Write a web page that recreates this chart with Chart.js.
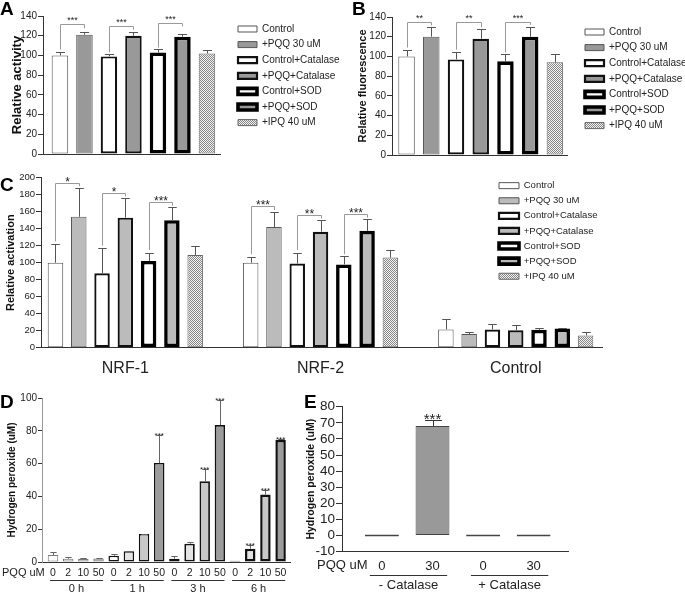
<!DOCTYPE html>
<html>
<head>
<meta charset="utf-8">
<script src="https://cdn.jsdelivr.net/npm/chart.js@4.4.1/dist/chart.umd.min.js"></script>
<style>
  body { margin: 0; background: #fff; }
  #wrap { position: relative; width: 685px; height: 593px; overflow: hidden; }
  canvas { position: absolute; left: 0; top: 0; }
  #cA { clip-path: inset(0 345px 428px 0); }
  #cB { clip-path: inset(0 0 428px 340px); }
  #cC { clip-path: inset(165px 0 203px 0); }
  #cD { clip-path: inset(388px 385px 0 0); }
  #cE { left: 300px; top: 388px; }
  .tag { position: absolute; font: bold 19px "Liberation Sans", Arial, sans-serif; color: #000; }
  .blank { position: absolute; background: #fff; }
</style>
</head>
<body>
<div id="wrap">
  <canvas id="cA" width="685" height="593"></canvas>
  <canvas id="cB" width="685" height="593"></canvas>
  <canvas id="cC" width="685" height="593"></canvas>
  <canvas id="cD" width="685" height="593"></canvas>
  <canvas id="cE" width="385" height="205"></canvas>
  <div class="blank" style="left:344px;top:399px;width:256px;height:11px"></div>
  <div class="blank" style="left:563px;top:399px;width:37px;height:150px"></div>
  <div class="tag" style="left:0;top:-2px">A</div>
  <div class="tag" style="left:352px;top:-2px">B</div>
  <div class="tag" style="left:0;top:174px">C</div>
  <div class="tag" style="left:0;top:391px">D</div>
  <div class="tag" style="left:304px;top:391px">E</div>
</div>
<script>
const seriesNames = ['Control', '+PQQ 30 uM', 'Control+Catalase', '+PQQ+Catalase', 'Control+SOD', '+PQQ+SOD', '+IPQ 40 uM'];

// A: relative activity (one bar per treatment)
const activityA = [100, 121, 99, 120, 103, 119, 102];
const activityErrA = [3.5, 3, 2.5, 4, 3.5, 3, 4];

// B: relative fluorescence
const fluorB = [100, 120, 97, 118, 95, 120, 94];
const fluorErrB = [7, 9.5, 8, 9.5, 7.5, 10, 8];

// C: relative activation, rows = treatment, columns = group
const groupsC = ['NRF-1', 'NRF-2', 'Control'];
const activC = [
  [100, 100, 21.5],
  [154, 142, 16],
  [87.5, 99, 21.5],
  [153, 136.5, 20.5],
  [102, 98, 21],
  [150, 137.5, 22.5],
  [109, 106, 14.5]
];
const activErrC = [
  [22.5, 6.5, 12.5],
  [33.5, 18, 3],
  [29.5, 13, 6.5],
  [23.5, 13.5, 6.5],
  [10, 9.5, 1.7],
  [15, 14, 1.2],
  [11, 9.5, 3.5]
];

// D: hydrogen peroxide over time
const pqqD = ['0', '2', '10', '50', '0', '2', '10', '50', '0', '2', '10', '50', '0', '2', '10', '50'];
const timesD = ['0 h', '1 h', '3 h', '6 h'];
const h2o2D = [4.2, 2.0, 1.8, 2.2, 3.8, 6.5, 17.1, 60.3, 2.0, 11.1, 49.2, 83.5, 0.8, 8.1, 41.1, 74.4];
const h2o2ErrD = [1.6, 1.0, 0.6, 0.2, 1.2, 0.5, 0.2, 17.3, 1.8, 1.0, 7.7, 15.5, 0, 2.4, 2.7, 0.6];
const starsD = [7, 10, 11, 13, 14, 15];

// E: hydrogen peroxide with / without catalase
const pqqE = ['0', '30', '0', '30'];
const catalaseE = ['- Catalase', '+ Catalase'];
const h2o2E = [0, 68, 0, 0];
const h2o2ErrE = [0, 3.5, 0, 0];

const FONT = '"Liberation Sans", Arial, Helvetica, sans-serif';
Chart.defaults.font.family = FONT;
Chart.defaults.color = '#222';

function hatch() {
  const c = document.createElement('canvas');
  c.width = c.height = 2;
  const g = c.getContext('2d');
  g.fillStyle = '#f4f4f4';
  g.fillRect(0, 0, 2, 2);
  g.fillStyle = '#858585';
  g.fillRect(0, 0, 1, 1);
  g.fillRect(1, 1, 1, 1);
  return g.createPattern(c, 'repeat');
}

function seriesStyle(gray) {
  return [
    { backgroundColor: '#fff', borderColor: '#555', borderWidth: 1 },
    { backgroundColor: gray, borderColor: '#555', borderWidth: 1 },
    { backgroundColor: '#fff', borderColor: '#111', borderWidth: 2.2 },
    { backgroundColor: gray, borderColor: '#111', borderWidth: 2.2 },
    { backgroundColor: '#fff', borderColor: '#000', borderWidth: 3.6 },
    { backgroundColor: gray, borderColor: '#000', borderWidth: 3.6 },
    { backgroundColor: hatch(), borderColor: '#666', borderWidth: 1 }
  ];
}

// place the plot area at page rect L..R, T..B inside a canvas at (ox, oy) of size cw x ch
function frame(L, T, R, B, yW, xH, ox = 0, oy = 0, cw = 685, ch = 593) {
  return {
    padding: { left: L - ox - yW, top: T - oy, right: ox + cw - R, bottom: oy + ch - B - xH },
    yFit: s => { s.width = yW; },
    xFit: s => { s.height = xH; }
  };
}

function yAxis(o) {
  return {
    min: o.min || 0, max: o.max,
    ticks: { stepSize: o.step, autoSkip: false, padding: 1, font: { size: o.size }, color: '#222' },
    grid: { drawOnChartArea: false, drawTicks: true, tickLength: o.tick || 5, color: '#333' },
    border: { display: true, color: o.axisColor || '#333', width: 1 },
    title: { display: true, text: o.title, font: { size: o.titleSize, weight: 'bold' }, color: '#111', padding: 0 },
    afterFit: o.fit
  };
}

function xAxis(o) {
  return {
    type: 'linear', min: o.min, max: o.max, offset: false,
    afterBuildTicks: s => { s.ticks = o.labels.map((_, i) => ({ value: i })); },
    ticks: {
      display: o.show, autoSkip: false, maxRotation: 0, padding: o.pad || 4,
      font: { size: o.size || 10 }, color: '#222',
      callback: v => o.labels[v]
    },
    grid: { display: false, drawTicks: false, drawOnChartArea: false },
    border: { display: true, color: '#333', width: 1 },
    afterFit: o.fit
  };
}

function extras(cfg) {
  const ox = cfg.ox || 0, oy = cfg.oy || 0;
  return {
    id: 'extras',
    afterLayout(chart) {
      if (cfg.legend) {
        const lg = chart.legend;
        lg.left = cfg.legend.x;
        lg.top = cfg.legend.y;
        lg.right = lg.left + lg.width;
        lg.bottom = lg.top + lg.height;
      }
    },
    afterDatasetsDraw(chart) {
      const ctx = chart.ctx, ys = chart.scales.y, xs = chart.scales.x;
      ctx.save();
      ctx.beginPath();
      (cfg.errors || []).forEach((errs, di) => {
        const meta = chart.getDatasetMeta(di);
        meta.data.forEach((bar, j) => {
          const e = errs[j];
          if (!e) return;
          const v = meta.controller.getParsed(j).y;
          const yt = Math.round(ys.getPixelForValue(v + e)) + 0.5;
          const x = Math.round(bar.x) + 0.5;
          const half = bar.width * (cfg.cap || 0.5) / 2;
          ctx.strokeStyle = cfg.errColor || '#555';
          ctx.lineWidth = 1;
          ctx.beginPath();
          ctx.moveTo(x, bar.y);
          ctx.lineTo(x, yt);
          ctx.moveTo(x - half, yt);
          ctx.lineTo(x + half, yt);
          ctx.stroke();
        });
      });
      const barAt = (p) => chart.getDatasetMeta(p[0]).data[p[1]];
      (cfg.brackets || []).forEach(b => {
        const xa = Math.round(barAt(b.a).x) + 0.5, xb = Math.round(barAt(b.b).x) + 0.5;
        const yt = Math.round(ys.getPixelForValue(b.top)) + 0.5;
        ctx.strokeStyle = '#999';
        ctx.lineWidth = 1;
        ctx.beginPath();
        ctx.moveTo(xa, ys.getPixelForValue(b.la));
        ctx.lineTo(xa, yt);
        ctx.lineTo(xb, yt);
        ctx.lineTo(xb, ys.getPixelForValue(b.lb));
        ctx.stroke();
        ctx.fillStyle = '#222';
        ctx.font = cfg.starFont;
        ctx.textAlign = 'center';
        ctx.textBaseline = 'alphabetic';
        ctx.fillText(b.text, (xa + xb) / 2, yt - 2 + (cfg.starShift || 0));
      });
      (cfg.stars || []).forEach(s => {
        const meta = chart.getDatasetMeta(s.d);
        const bar = meta.data[s.i];
        const v = meta.controller.getParsed(s.i).y + (cfg.errors[s.d][s.i] || 0);
        ctx.fillStyle = '#222';
        ctx.font = cfg.starFont;
        ctx.textAlign = 'center';
        ctx.textBaseline = 'alphabetic';
        ctx.fillText(s.text, bar.x, ys.getPixelForValue(v) - 1 + (cfg.starShift || 0));
      });
      (cfg.groups || []).forEach(g => {
        const x1 = xs.getPixelForValue(g.from), x2 = xs.getPixelForValue(g.to);
        ctx.strokeStyle = '#333';
        ctx.lineWidth = 1;
        ctx.beginPath();
        ctx.moveTo(x1, g.y - oy + 0.5);
        ctx.lineTo(x2, g.y - oy + 0.5);
        ctx.stroke();
        ctx.fillStyle = '#222';
        ctx.font = g.font;
        ctx.textAlign = 'center';
        ctx.textBaseline = 'middle';
        ctx.fillText(g.text, (x1 + x2) / 2, g.ty - oy);
      });
      (cfg.texts || []).forEach(t => {
        ctx.fillStyle = '#222';
        ctx.font = t.font;
        ctx.textAlign = t.align || 'left';
        ctx.textBaseline = 'middle';
        ctx.fillText(t.text, t.x - ox, t.y - oy);
      });
      ctx.beginPath();
      ctx.restore();
    }
  };
}

function legendOpts(size, boxW) {
  return {
    display: true, position: 'chartArea', align: 'start',
    labels: { boxWidth: boxW, boxHeight: 6, padding: 5.6, font: { size: size }, color: '#222' }
  };
}

function groupedDatasets(values, gray, catPct, barPct) {
  const st = seriesStyle(gray);
  return seriesNames.map((name, s) => Object.assign({
    label: name,
    data: values[s].map((v, i) => ({ x: i, y: v })),
    borderSkipped: false,
    categoryPercentage: catPct,
    barPercentage: barPct
  }, st[s]));
}

// ---------- A ----------
const fA = frame(43, 16, 220, 154, 33, 2);
new Chart(document.getElementById('cA'), {
  type: 'bar',
  data: { datasets: groupedDatasets(activityA.map(v => [v]), '#999', 0.969, 0.673) },
  options: {
    responsive: false, animation: false, devicePixelRatio: 1,
    layout: { padding: fA.padding },
    plugins: { legend: legendOpts(10, 19), tooltip: { enabled: false } },
    scales: {
      x: xAxis({ min: -0.511, max: 0.489, labels: [''], show: false, fit: fA.xFit }),
      y: yAxis({ max: 140, step: 20, size: 10, title: 'Relative activity', titleSize: 13, fit: fA.yFit })
    }
  },
  plugins: [extras({
    legend: { x: 232.4, y: 18.4 },
    errors: activityErrA.map(e => [e]),
    cap: 0.55,
    starFont: '9px ' + FONT,
    brackets: [
      { a: [0, 0], b: [1, 0], top: 132, la: 106, lb: 127.5, text: '***' },
      { a: [2, 0], b: [3, 0], top: 129.5, la: 103, lb: 126, text: '***' },
      { a: [4, 0], b: [5, 0], top: 133, la: 108, lb: 129.5, text: '***' }
    ]
  })]
});

// ---------- B ----------
const fB = frame(392, 17, 567, 155, 36, 2);
new Chart(document.getElementById('cB'), {
  type: 'bar',
  data: { datasets: groupedDatasets(fluorB.map(v => [v]), '#999', 0.989, 0.667) },
  options: {
    responsive: false, animation: false, devicePixelRatio: 1,
    layout: { padding: fB.padding },
    plugins: { legend: legendOpts(10, 19), tooltip: { enabled: false } },
    scales: {
      x: xAxis({ min: -0.507, max: 0.493, labels: [''], show: false, fit: fB.xFit }),
      y: yAxis({ max: 140, step: 20, size: 10, title: 'Relative fluorescence', titleSize: 11, fit: fB.yFit })
    }
  },
  plugins: [extras({
    legend: { x: 579.4, y: 21.4 },
    errors: fluorErrB.map(e => [e]),
    cap: 0.55,
    starFont: '9px ' + FONT,
    brackets: [
      { a: [0, 0], b: [1, 0], top: 134.5, la: 109, lb: 131.5, text: '**' },
      { a: [2, 0], b: [3, 0], top: 134.5, la: 107, lb: 129.5, text: '**' },
      { a: [4, 0], b: [5, 0], top: 134.5, la: 104, lb: 132, text: '***' }
    ]
  })]
});

// ---------- C ----------
const fC = frame(41, 177.7, 602, 347.7, 37, 40);
new Chart(document.getElementById('cC'), {
  type: 'bar',
  data: { datasets: groupedDatasets(activC, '#bbb', 0.835, 0.665) },
  options: {
    responsive: false, animation: false, devicePixelRatio: 1,
    layout: { padding: fC.padding },
    plugins: { legend: legendOpts(9.5, 20), tooltip: { enabled: false } },
    scales: {
      x: xAxis({ min: -0.432, max: 2.442, labels: groupsC, show: true, size: 16, pad: 11, fit: fC.xFit }),
      y: yAxis({ max: 200, step: 20, size: 9.5, title: 'Relative activation', titleSize: 11, fit: fC.yFit })
    }
  },
  plugins: [extras({
    legend: { x: 493.4, y: 175.3 },
    errors: activErrC,
    cap: 0.55,
    starFont: '12px ' + FONT,
    starShift: 4,
    brackets: [
      { a: [0, 0], b: [1, 0], top: 194, la: 125, lb: 190, text: '*' },
      { a: [2, 0], b: [3, 0], top: 182.5, la: 120, lb: 178, text: '*' },
      { a: [4, 0], b: [5, 0], top: 172, la: 115, lb: 167, text: '***' },
      { a: [0, 1], b: [1, 1], top: 167, la: 110, lb: 162, text: '***' },
      { a: [2, 1], b: [3, 1], top: 156, la: 115, lb: 152, text: '**' },
      { a: [4, 1], b: [5, 1], top: 157, la: 110, lb: 153, text: '***' }
    ]
  })]
});

// ---------- D ----------
const fillD = ['#ffffff', '#e4e4e4', '#c8c8c8', '#9c9c9c'];
const edgeD = [1, 1.5, 1.8, 2.5];
const fD = frame(42, 398, 290, 562, 36, 20);
new Chart(document.getElementById('cD'), {
  type: 'bar',
  data: {
    datasets: [{
      data: h2o2D.map((v, i) => ({ x: i, y: v })),
      backgroundColor: h2o2D.map((_, i) => fillD[i % 4]),
      borderColor: h2o2D.map((_, i) => (i < 4 ? '#777' : '#111')),
      borderWidth: h2o2D.map((_, i) => edgeD[Math.floor(i / 4)]),
      borderSkipped: false,
      categoryPercentage: 1,
      barPercentage: 0.69
    }]
  },
  options: {
    responsive: false, animation: false, devicePixelRatio: 1,
    layout: { padding: fD.padding },
    plugins: { legend: { display: false }, tooltip: { enabled: false } },
    scales: {
      x: xAxis({ min: -0.725, max: 15.62, labels: pqqD, show: true, size: 10.5, pad: 5, fit: fD.xFit }),
      y: yAxis({ max: 100, step: 20, size: 10, title: 'Hydrogen peroxide (uM)', titleSize: 10, axisColor: '#999', tick: 4, fit: fD.yFit })
    }
  },
  plugins: [extras({
    errors: [h2o2ErrD],
    errColor: '#666',
    cap: 0.6,
    starFont: '8px ' + FONT,
    starShift: 4,
    stars: starsD.map(i => ({ d: 0, i: i, text: '***' })),
    groups: timesD.map((t, g) => ({ from: g * 4 - 0.2, to: g * 4 + 3.3, y: 580, ty: 588.5, text: t, font: '11px ' + FONT })),
    texts: [{ x: 2, y: 573, text: 'PQQ uM', font: '11px ' + FONT }]
  })]
});

// ---------- E (own canvas at 300,388) ----------
const fE = frame(342, 406.7, 568, 551.7, 37, 22, 300, 388, 385, 205);
new Chart(document.getElementById('cE'), {
  type: 'bar',
  data: {
    datasets: [{
      data: h2o2E.map((v, i) => ({ x: i, y: v })),
      backgroundColor: '#999',
      borderColor: '#444',
      borderWidth: 1,
      borderSkipped: false,
      minBarLength: 2,
      categoryPercentage: 1,
      barPercentage: 0.67
    }]
  },
  options: {
    responsive: false, animation: false, devicePixelRatio: 1,
    layout: { padding: fE.padding },
    plugins: { legend: { display: false }, tooltip: { enabled: false } },
    scales: {
      x: xAxis({ min: -0.79, max: 3.68, labels: pqqE, show: true, size: 13, pad: 7, fit: fE.xFit }),
      y: yAxis({ min: -10, max: 80, step: 10, size: 13.5, title: 'Hydrogen peroxide (uM)', titleSize: 10.5, tick: 6, fit: fE.yFit })
    }
  },
  plugins: [extras({
    ox: 300, oy: 388,
    errors: [h2o2ErrE],
    errColor: '#333',
    cap: 0.5,
    starFont: '15px ' + FONT,
    starShift: 5,
    stars: [{ d: 0, i: 1, text: '***' }],
    groups: catalaseE.map((t, g) => ({ from: g * 2 - 0.24, to: g * 2 + 1.29, y: 575, ty: 585.5, text: t, font: '13px ' + FONT })),
    texts: [{ x: 317, y: 565.7, text: 'PQQ uM', font: '13px ' + FONT }]
  })]
});
</script>
</body>
</html>
